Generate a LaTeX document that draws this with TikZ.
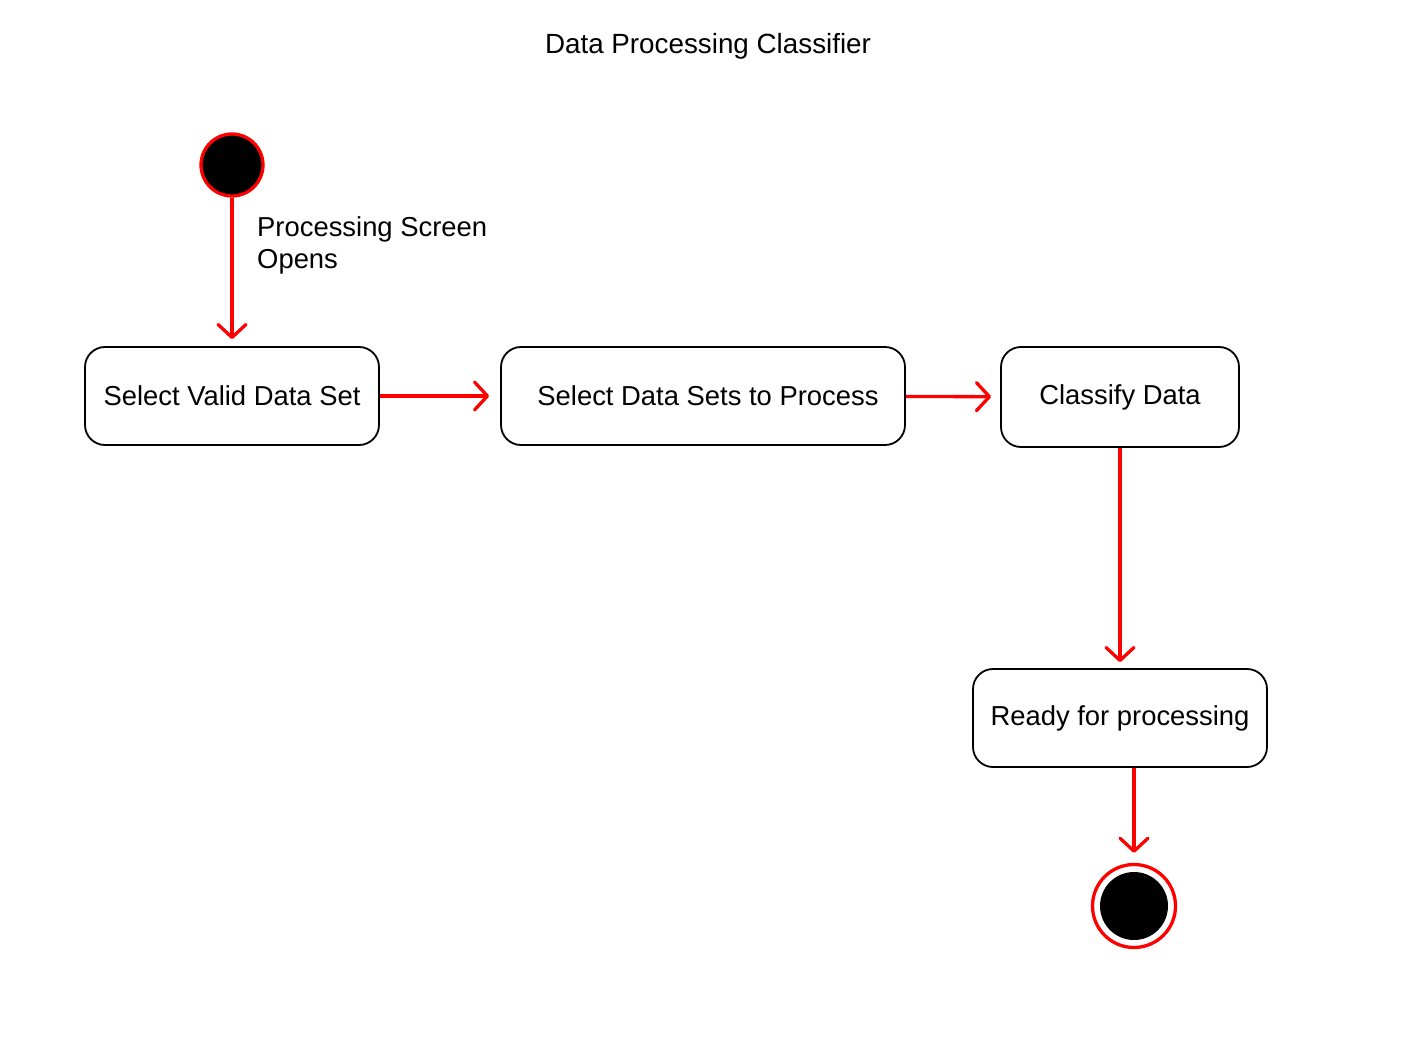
\documentclass[tikz,border=0pt]{standalone}
\usepackage{fontspec}
\setmainfont{Liberation Sans}
\usetikzlibrary{arrows.meta}
\begin{document}
\begin{tikzpicture}[x=1pt,y=-1pt,
  statebox/.style={draw=black,line width=1.8pt,rounded corners=20pt,fill=white,
    inner sep=0pt,font=\fontsize{27.4}{32}\selectfont,text=black},
  flow/.style={draw=red,line width=3.3pt,
    -{Straight Barb[length=13pt,width=28pt,line width=3.3pt,line join=round,line cap=round]}},
  lbl/.style={font=\fontsize{27.4}{32}\selectfont,align=left,inner sep=0pt}]
\useasboundingbox[fill=white] (0,0) rectangle (1410,1040);
\node[font=\fontsize{27.8}{32}\selectfont] (title) at (708,46) {Data Processing Classifier};
\node[circle,draw=red,line width=3.3pt,fill=black,minimum size=62pt,inner sep=0pt] (start) at (232,165) {};
\node[statebox,minimum width=294pt,minimum height=98pt] (b1) at (232,396) {Select Valid Data Set};
\node[statebox,minimum width=404pt,minimum height=98pt] (b2) at (703,396) {\hspace*{10pt}Select Data Sets to Process};
\node[statebox,minimum width=238pt,minimum height=100pt] (b3) at (1120,397) {Classify Data};
\node[statebox,minimum width=294pt,minimum height=98pt] (b4) at (1120,718) {Ready for processing};
\node[circle,draw=red,line width=3.3pt,fill=white,minimum size=83pt,inner sep=0pt] (end) at (1134,906) {};
\node[circle,fill=black,minimum size=68pt,inner sep=0pt] (endin) at (end.center) {};
\node[lbl,anchor=north west] (l1) at (257,216) {Processing Screen\\Opens};
\draw[flow,shorten >=7pt] (start) -- (b1);
\draw[flow,shorten >=11pt] (b1) -- (b2);
\draw[flow,shorten >=9pt] (b2) -- (b3);
\draw[flow,shorten >=6pt] (b3) -- (b4);
\draw[flow,shorten >=10pt] (end |- b4.south) -- (end);
\end{tikzpicture}
\end{document}
